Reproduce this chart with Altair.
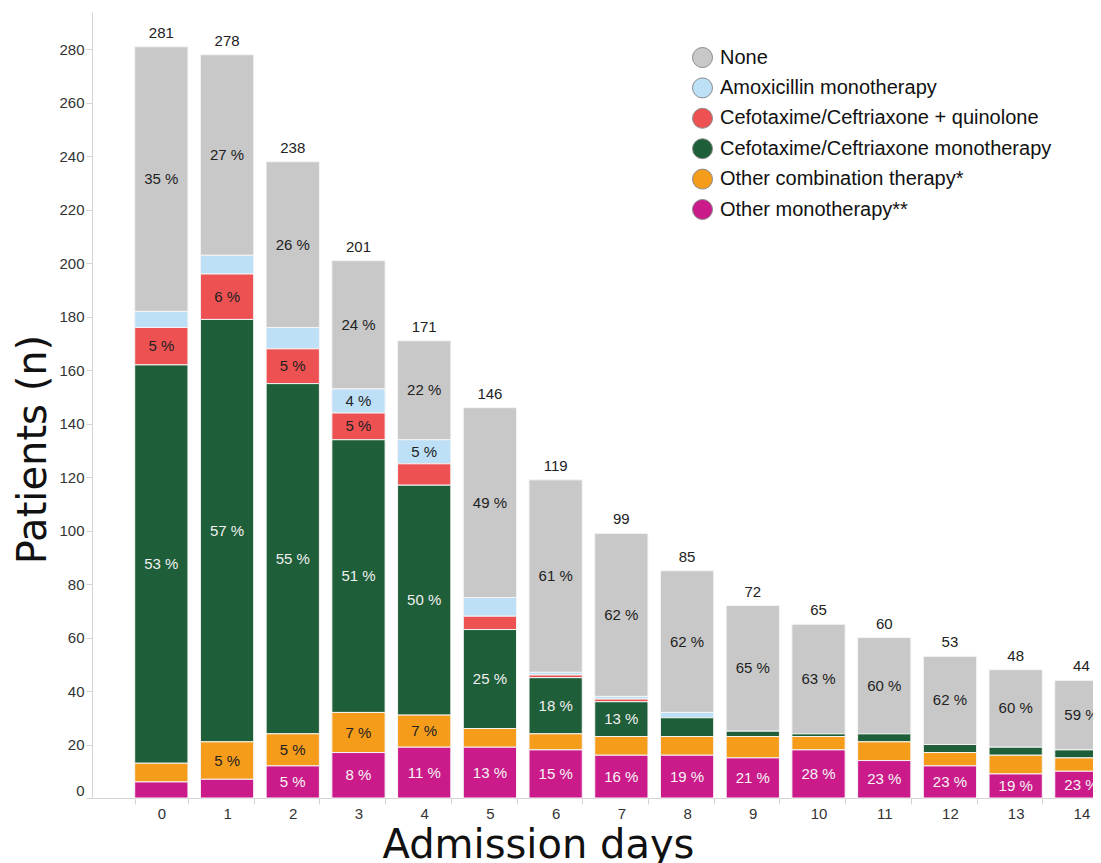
import altair as alt
import pandas as pd

days = list(range(15))
totals = [281, 278, 238, 201, 171, 146, 119, 99, 85, 72, 65, 60, 53, 48, 44]
categories = ["None", "Amoxicillin monotherapy", "Cefotaxime/Ceftriaxone + quinolone",
              "Cefotaxime/Ceftriaxone monotherapy", "Other combination therapy*", "Other monotherapy**"]
colors = ["#c8c8c8", "#bde0f6", "#ee5152", "#1e5e39", "#f59c1a", "#cb1b8b"]
text_colors = ["#222222", "#222222", "#222222", "#f0f0f0", "#222222", "#f5f5f5"]

none_n = [99, 75, 62, 48, 37, 71, 72, 61, 53, 47, 41, 36, 33, 29, 26]
amox_n = [6, 7, 8, 9, 9, 7, 1, 1, 2, 0, 0, 0, 0, 0, 0]
cq_n = [14, 17, 13, 10, 8, 5, 1, 1, 0, 0, 0, 0, 0, 0, 0]
cm_n = [149, 158, 131, 102, 86, 37, 21, 13, 7, 2, 1, 3, 3, 3, 3]
oc_n = [7, 14, 12, 15, 12, 7, 6, 7, 7, 8, 5, 7, 5, 7, 5]
om_n = [6, 7, 12, 17, 19, 19, 18, 16, 16, 15, 18, 14, 12, 9, 10]

none_lbl = ["35 %", "27 %", "26 %", "24 %", "22 %", "49 %", "61 %", "62 %", "62 %", "65 %",
            "63 %", "60 %", "62 %", "60 %", "59 %"]
amox_lbl = ["", "", "", "4 %", "5 %", "", "", "", "", "", "", "", "", "", ""]
cq_lbl = ["5 %", "6 %", "5 %", "5 %", "", "", "", "", "", "", "", "", "", "", ""]
cm_lbl = ["53 %", "57 %", "55 %", "51 %", "50 %", "25 %", "18 %", "13 %", "", "", "", "", "", "", ""]
oc_lbl = ["", "5 %", "5 %", "7 %", "7 %", "", "", "", "", "", "", "", "", "", ""]
om_lbl = ["", "", "5 %", "8 %", "11 %", "13 %", "15 %", "16 %", "19 %", "21 %", "28 %", "23 %",
          "23 %", "19 %", "23 %"]

counts = [none_n, amox_n, cq_n, cm_n, oc_n, om_n]
labels = [none_lbl, amox_lbl, cq_lbl, cm_lbl, oc_lbl, om_lbl]

rows = []
for ci, cat in enumerate(categories):
    for di, d in enumerate(days):
        rows.append({
            "day": d,
            "category": cat,
            "count": counts[ci][di],
            "label": labels[ci][di],
            "stack_order": len(categories) - 1 - ci,
            "tcolor": text_colors[ci],
        })
df = pd.DataFrame(rows)
df_tot = pd.DataFrame({"day": days, "total": totals})

xscale = alt.Scale(paddingInner=0.19, paddingOuter=0.325, align=1, range=[0, 1016])
x_enc = alt.X("day:O", scale=xscale, title="Admission days",
              axis=alt.Axis(labelAngle=0, tickBand="extent", labelPadding=2, titlePadding=4,
                            tickSize=6, titleX=446))
yscale = alt.Scale(domain=[0, 294], nice=False)

base = alt.Chart(df)

bars = base.transform_filter("datum.count > 0").mark_bar(stroke="#f4f4f4", strokeWidth=1).encode(
    x=x_enc,
    y=alt.Y("count:Q", stack="zero", scale=yscale, title="Patients (n)",
            axis=alt.Axis(values=list(range(0, 281, 20)), labelFlush=True, tickSize=6,
                          labelPadding=2, titlePadding=5, titleY=437)),
    color=alt.Color("category:N", scale=alt.Scale(domain=categories, range=colors),
                    legend=alt.Legend(title=None, orient="none", legendX=600, legendY=35,
                                      symbolType="circle", symbolSize=400, symbolStrokeWidth=1,
                                      symbolStrokeColor="#8a8a8a", labelFont="Liberation Sans",
                                      labelFontSize=20, labelColor="#111111", rowPadding=5.4,
                                      labelLimit=600, labelOffset=7)),
    order=alt.Order("stack_order:Q", sort="ascending"),
)

seg_text = base.transform_stack(
    stack="count", groupby=["day"], as_=["y0", "y1"],
    sort=[alt.SortField("stack_order", order="ascending")]
).transform_calculate(
    mid="(datum.y0 + datum.y1) / 2"
).transform_filter("datum.label != ''").mark_text(
    font="Liberation Sans", fontSize=15, baseline="middle"
).encode(
    x=alt.X("day:O", scale=xscale),
    y=alt.Y("mid:Q", scale=yscale),
    text="label:N",
    color=alt.Color("tcolor:N", scale=None),
)

tot_text = alt.Chart(df_tot).mark_text(
    font="Liberation Sans", fontSize=15, baseline="middle", dy=-14, color="#222222"
).encode(
    x=alt.X("day:O", scale=xscale),
    y=alt.Y("total:Q", scale=yscale),
    text="total:Q",
)

chart = alt.layer(bars, seg_text, tot_text).properties(
    width=1001, height=786,
    autosize=alt.AutoSizeParams(type="none"),
    padding={"top": 4, "left": 84, "right": 0, "bottom": 65},
).configure_view(stroke=None).configure_axis(
    grid=False,
    labelFont="Liberation Sans", labelFontSize=15, labelColor="#333333",
    titleFont="DejaVu Sans", titleFontSize=40, titleFontWeight="normal", titleColor="#111111",
    domainColor="#d4d4d4", tickColor="#d4d4d4",
)

chart.save("out.html", embed_options={"renderer": "svg", "actions": False})
